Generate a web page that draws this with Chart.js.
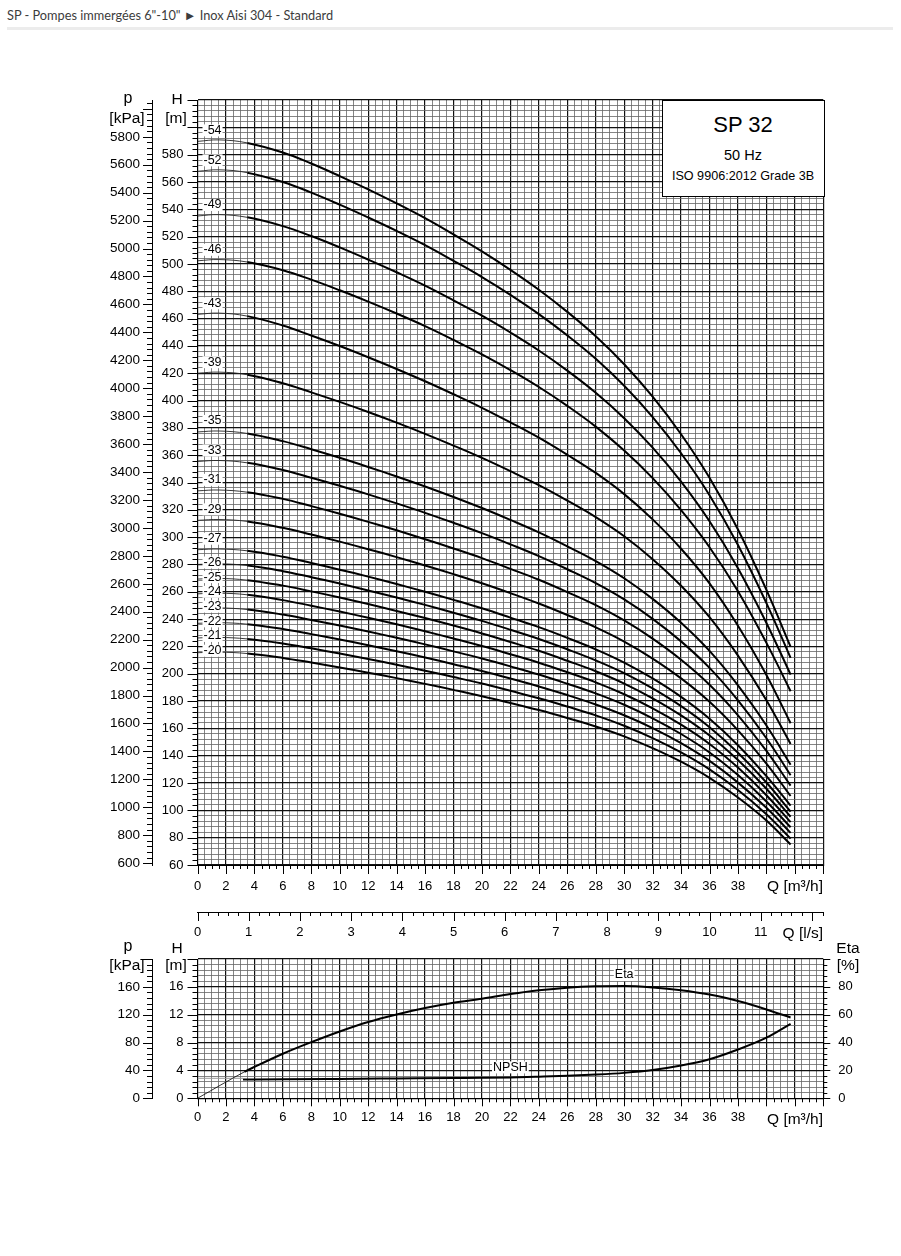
<!DOCTYPE html>
<html>
<head>
<meta charset="utf-8">
<title>SP 32</title>
<script src="https://cdn.jsdelivr.net/npm/chart.js@4.4.1/dist/chart.umd.min.js"></script>
<style>
body{ margin:0; background:#fff; width:901px; height:1256px; position:relative; overflow:hidden; }
.head{ position:absolute; left:7px; top:7px; font-family:Lato,"Open Sans",sans-serif; font-size:12.75px; color:#3c3c3c; white-space:nowrap; }
.rule{ position:absolute; left:7px; width:886px; top:27px; height:3px; background:#ececec; }
canvas{ position:absolute; left:0; }
.txt{ position:absolute; line-height:1; white-space:nowrap; color:#000; font-family:"Liberation Sans",Arial,sans-serif; z-index:3; }
.box{ position:absolute; left:662px; top:100px; width:161px; height:95px; border:1px solid #000; background:#fff; z-index:2; }
</style>
</head>
<body>
<div class="head">SP - Pompes immergées 6"-10" ► Inox Aisi 304 - Standard</div>
<div class="rule"></div>
<canvas id="headChart" width="901" height="822" style="top:78px"></canvas>
<canvas id="lsAxis" width="901" height="45" style="top:900px"></canvas>
<canvas id="etaChart" width="901" height="199" style="top:936px"></canvas>
<div class="box"></div>
<script>
// ======================================
// DATA
// ======================================

const flowPoints = [0, 1.5, 3.5, 6, 8, 10, 12, 14, 16, 18, 20, 22, 24, 26, 28, 30, 32, 34, 36, 38, 40, 41.7];

const stageLabels = ["-54","-52","-49","-46","-43","-39","-35","-33","-31","-29","-27","-26","-25","-24","-23","-22","-21","-20"];

const head54 = [589.7, 590.8, 588.6, 581.6, 573.5, 564.3, 554.6, 544.3, 533.5, 521.6, 509.2, 495.7, 481.1, 464.9, 447.1, 426.6, 402.8, 375.3, 343.4, 305.6, 261.4, 219.8];
const head52 = [567.8, 568.9, 566.8, 560.0, 552.2, 543.4, 534.0, 524.2, 513.8, 502.3, 490.4, 477.4, 463.3, 447.7, 430.6, 410.8, 387.9, 361.4, 330.7, 294.3, 251.7, 211.6];
const head49 = [535.1, 536.1, 534.1, 527.7, 520.4, 512.1, 503.2, 493.9, 484.1, 473.3, 462.1, 449.8, 436.6, 421.9, 405.7, 387.1, 365.5, 340.6, 311.6, 277.3, 237.2, 199.4];
const head46 = [502.3, 503.2, 501.4, 495.4, 488.5, 480.7, 472.4, 463.7, 454.5, 444.4, 433.8, 422.3, 409.9, 396.1, 380.9, 363.4, 343.2, 319.7, 292.6, 260.4, 222.6, 187.2];
const head43 = [463.1, 464.0, 461.8, 454.9, 447.6, 439.9, 431.7, 423.1, 414.1, 404.6, 394.7, 384.0, 372.8, 360.3, 347.0, 331.5, 313.0, 291.5, 266.2, 235.2, 199.1, 163.8];
const head39 = [420.0, 420.8, 418.9, 412.6, 406.0, 399.0, 391.6, 383.8, 375.6, 367.0, 358.0, 348.3, 338.1, 326.8, 314.7, 300.7, 283.9, 264.4, 241.4, 213.3, 180.6, 148.6];
const head35 = [377.0, 377.7, 375.9, 370.3, 364.4, 358.1, 351.4, 344.4, 337.1, 329.4, 321.3, 312.6, 303.5, 293.3, 282.5, 269.9, 254.8, 237.3, 216.7, 191.5, 162.1, 133.4];
const head33 = [355.4, 356.1, 354.4, 349.1, 343.5, 337.6, 331.3, 324.7, 317.8, 310.5, 302.9, 294.7, 286.1, 276.5, 266.3, 254.4, 240.2, 223.7, 204.3, 180.5, 152.8, 125.7];
const head31 = [333.9, 334.5, 332.9, 328.0, 322.7, 317.1, 311.2, 305.0, 298.5, 291.7, 284.6, 276.8, 268.8, 259.8, 250.2, 239.0, 225.7, 210.2, 191.9, 169.6, 143.5, 118.1];
const head29 = [312.3, 312.9, 311.5, 306.8, 301.9, 296.7, 291.2, 285.4, 279.3, 272.9, 266.2, 259.0, 251.4, 243.0, 234.0, 223.6, 211.1, 196.6, 179.5, 158.6, 134.3, 110.5];
const head27 = [290.8, 291.3, 290.0, 285.7, 281.1, 276.2, 271.1, 265.7, 260.0, 254.1, 247.9, 241.1, 234.1, 226.3, 217.9, 208.2, 196.6, 183.1, 167.1, 147.7, 125.0, 103.5];
const head26 = [280.0, 280.5, 279.2, 275.1, 270.7, 266.0, 261.0, 255.8, 250.4, 244.7, 238.7, 232.2, 225.4, 217.9, 209.8, 200.5, 189.3, 176.3, 160.9, 142.2, 120.4, 99.1];
const head25 = [269.3, 269.8, 268.5, 264.5, 260.3, 255.8, 251.0, 246.0, 240.8, 235.3, 229.5, 223.3, 216.8, 209.5, 201.8, 192.8, 182.0, 169.5, 154.8, 136.8, 115.8, 95.3];
const head24 = [258.5, 259.0, 257.8, 253.9, 249.8, 245.5, 241.0, 236.2, 231.1, 225.8, 220.3, 214.3, 208.1, 201.1, 193.7, 185.0, 174.7, 162.7, 148.6, 131.3, 111.1, 91.4];
const head23 = [247.7, 248.2, 247.0, 243.3, 239.4, 235.3, 230.9, 226.3, 221.5, 216.4, 211.1, 205.4, 199.4, 192.7, 185.6, 177.3, 167.4, 155.9, 142.4, 125.8, 106.5, 87.6];
const head22 = [236.9, 237.4, 236.3, 232.8, 229.0, 225.1, 220.9, 216.5, 211.9, 207.0, 202.0, 196.5, 190.7, 184.4, 177.5, 169.6, 160.2, 149.2, 136.2, 120.3, 101.9, 83.5];
const head21 = [226.2, 226.6, 225.5, 222.2, 218.6, 214.8, 210.8, 206.6, 202.2, 197.6, 192.8, 187.5, 182.1, 176.0, 169.5, 161.9, 152.9, 142.4, 130.0, 114.9, 97.2, 79.3];
const head20 = [215.4, 215.8, 214.8, 211.6, 208.2, 204.6, 200.8, 196.8, 192.6, 188.2, 183.6, 178.6, 173.4, 167.6, 161.4, 154.2, 145.6, 135.6, 123.8, 109.4, 92.6, 75.0];

const headCurves = [head54, head52, head49, head46, head43, head39, head35, head33, head31, head29, head27, head26, head25, head24, head23, head22, head21, head20];

const etaFlow = [0, 3.3, 4, 6, 8, 10, 12, 14, 16, 18, 20, 22, 24, 26, 28, 30, 32, 34, 36, 38, 40, 41.7];
const etaValues = [0, 19, 22.5, 32, 40.3, 48, 54.8, 60.2, 64.8, 68.6, 71.5, 74.8, 77.5, 79.4, 80.4, 80.6, 79.6, 77.6, 74.5, 69.8, 63.8, 58];

const npshFlow = [3.2, 6, 10, 14, 18, 20, 22, 24, 26, 28, 30, 32, 34, 36, 38, 40, 41.7];
const npshValues = [2.7, 2.72, 2.78, 2.85, 2.92, 2.95, 3.0, 3.1, 3.22, 3.4, 3.65, 4.05, 4.7, 5.6, 7.0, 8.7, 10.7];
const npshLowFlow = [0, 3.2];
const npshLowValues = [2.87, 2.87];

const flowTicksM3h = [0, 2, 4, 6, 8, 10, 12, 14, 16, 18, 20, 22, 24, 26, 28, 30, 32, 34, 36, 38];
const flowTicksLs = [0, 1, 2, 3, 4, 5, 6, 7, 8, 9, 10, 11];

const KPA_PER_M_TOP = 9.78;
const KPA_PER_M_LOW = 10;
const THIN_UNTIL = 3.5;

// ======================================
// HELPERS
// ======================================

Chart.defaults.font.family = "'Liberation Sans', Arial, sans-serif";
Chart.defaults.font.size = 13;
Chart.defaults.color = "#000";

function isStep(v, step){

    const r = v / step;

    return Math.abs(r - Math.round(r)) < 1e-6;

}

function gridOpts(major){

    return {
        color: c => isStep(c.tick.value, major) ? "#111" : "#666",
        lineWidth: c => isStep(c.tick.value, major) ? 1.2 : 0.8,
        drawTicks: false
    };

}

function points(xs, ys){

    return xs.map((q, i) => ({ x: q, y: ys[i] }));

}

function addText(txt, x, base, size, align){

    const d = document.createElement("div");

    d.className = "txt";
    d.textContent = txt;
    d.style.left = x + "px";
    d.style.top = (base - size * 0.8465) + "px";
    d.style.fontSize = size + "px";

    if(align === "center") d.style.transform = "translateX(-50%)";
    if(align === "right") d.style.transform = "translateX(-100%)";

    document.body.appendChild(d);

}

// tick marks drawn along each axis line, majors longer
const tickMarks = {

    id: "tickMarks",

    afterDraw(chart, args, opts){

        const ctx = chart.ctx;

        ctx.save();
        ctx.strokeStyle = "#000";
        ctx.lineWidth = 1;

        (opts.axes || []).forEach(a => {

            const s = chart.scales[a.id];

            s.ticks.forEach(t => {

                const len = isStep(t.value, a.major) ? a.len : a.minorLen;
                const p = Math.round(s.getPixelForValue(t.value)) + 0.5;

                ctx.beginPath();

                if(s.position === "bottom"){
                    ctx.moveTo(p, s.top);
                    ctx.lineTo(p, s.top + len);
                }
                else if(s.position === "left"){
                    ctx.moveTo(s.right, p);
                    ctx.lineTo(s.right - len, p);
                }
                else{
                    ctx.moveTo(s.left, p);
                    ctx.lineTo(s.left + len, p);
                }

                ctx.stroke();

            });

        });

        ctx.restore();

    }

};

// small white-backed tags next to the curves
const curveTags = {

    id: "curveTags",

    afterDatasetsDraw(chart){

        const ctx = chart.ctx;
        const xs = chart.scales.x;

        ctx.save();
        ctx.font = "12.5px 'Liberation Sans', Arial, sans-serif";
        ctx.textBaseline = "middle";

        chart.data.datasets.forEach(ds => {

            if(!ds.tag) return;

            const pt = ds.data[ds.tagIndex];
            const ys = chart.scales[ds.yAxisID];
            const w = ctx.measureText(ds.tag).width;

            const px = ds.tagIndex === 0 ? xs.getPixelForValue(pt.x) + 6 : xs.getPixelForValue(pt.x) - w / 2;
            const py = ys.getPixelForValue(pt.y) + ds.tagDy;

            ctx.fillStyle = "#fff";
            ctx.fillRect(px - 1, py - 6, w + 2, 12);

            ctx.fillStyle = "#000";
            ctx.fillText(ds.tag, px, py);

        });

        ctx.restore();

    }

};

// ======================================
// HEAD CURVES
// ======================================

function drawHeadChart(){

    const datasets = headCurves.map((vals, i) => ({

        label: stageLabels[i],
        tag: stageLabels[i],
        tagIndex: 0,
        tagDy: i < 11 ? -11 : -2,
        data: points(flowPoints, vals),
        yAxisID: "y",
        borderColor: "#000",
        borderWidth: 2,
        pointRadius: 0,
        fill: false,
        tension: 0.4,
        segment: {
            borderWidth: c => c.p1.parsed.x <= THIN_UNTIL ? 0.9 : 2,
            borderColor: c => c.p1.parsed.x <= THIN_UNTIL ? "#222" : "#000"
        }

    }));

    new Chart(

        document.getElementById("headChart"),

        {

            type: "line",

            data: { datasets },

            plugins: [tickMarks, curveTags],

            options: {

                responsive: false,
                animation: false,
                events: [],

                layout: { padding: { top: 22, right: 77.7, bottom: 0, left: 0 } },

                plugins: {
                    legend: { display: false },
                    tooltip: { enabled: false },
                    tickMarks: {
                        axes: [
                            { id: "x", major: 2, len: 9, minorLen: 4 },
                            { id: "y", major: 20, len: 10, minorLen: 5 },
                            { id: "yP", major: 200, len: 9, minorLen: 5 }
                        ]
                    }
                },

                scales: {

                    x: {
                        type: "linear",
                        min: 0,
                        max: 44,
                        grid: gridOpts(2),
                        border: { display: true, color: "#000", width: 1 },
                        ticks: {
                            stepSize: 0.5,
                            autoSkip: false,
                            maxRotation: 0,
                            padding: 14,
                            callback: v => flowTicksM3h.includes(v) ? String(v) : ""
                        },
                        afterFit: s => { s.height = 35; }
                    },

                    y: {
                        type: "linear",
                        position: "left",
                        weight: 0,
                        min: 60,
                        max: 620,
                        grid: gridOpts(20),
                        border: { display: true, color: "#000", width: 1 },
                        ticks: {
                            stepSize: 4,
                            autoSkip: false,
                            padding: 14,
                            callback: v => (isStep(v, 20) && v <= 580) ? String(v) : ""
                        },
                        afterFit: s => { s.width = 45.5; }
                    },

                    yP: {
                        type: "linear",
                        position: "left",
                        weight: 1,
                        min: 60 * KPA_PER_M_TOP,
                        max: 620 * KPA_PER_M_TOP,
                        grid: { drawOnChartArea: false, drawTicks: false },
                        border: { display: true, color: "#000", width: 1 },
                        ticks: {
                            stepSize: 40,
                            includeBounds: false,
                            autoSkip: false,
                            padding: 12,
                            font: { size: 13.5 },
                            callback: v => (isStep(v, 200) && v <= 5800) ? String(v) : ""
                        },
                        afterFit: s => { s.width = 152; }
                    }

                }

            }

        }

    );

}

// ======================================
// FLOW IN L/S
// ======================================

function drawLsAxis(){

    new Chart(

        document.getElementById("lsAxis"),

        {

            type: "line",

            data: { datasets: [] },

            plugins: [tickMarks],

            options: {

                responsive: false,
                animation: false,
                events: [],

                layout: { padding: { top: 11, right: 77.7, bottom: 0, left: 197.5 } },

                plugins: {
                    legend: { display: false },
                    tooltip: { enabled: false },
                    tickMarks: { axes: [ { id: "x", major: 1, len: 9, minorLen: 4 } ] }
                },

                scales: {

                    x: {
                        type: "linear",
                        min: 0,
                        max: 44 / 3.6,
                        grid: { drawOnChartArea: false, drawTicks: false },
                        border: { display: true, color: "#000", width: 1 },
                        ticks: {
                            stepSize: 0.2,
                            autoSkip: false,
                            maxRotation: 0,
                            padding: 13,
                            callback: v => flowTicksLs.includes(v) ? String(v) : ""
                        },
                        afterFit: s => { s.height = 33; }
                    },

                    y: { display: false, min: 0, max: 1 }

                }

            }

        }

    );

}

// ======================================
// ETA / NPSH
// ======================================

function drawEtaChart(){

    new Chart(

        document.getElementById("etaChart"),

        {

            type: "line",

            data: {

                datasets: [

                    {
                        label: "Eta",
                        tag: "Eta",
                        tagIndex: 15,
                        tagDy: -11,
                        data: points(etaFlow, etaValues),
                        yAxisID: "yEta",
                        borderColor: "#000",
                        borderWidth: 2,
                        pointRadius: 0,
                        cubicInterpolationMode: "monotone",
                        segment: {
                            borderWidth: c => c.p1.parsed.x <= 3.3 ? 0.8 : 2
                        }
                    },

                    {
                        label: "NPSH",
                        tag: "NPSH",
                        tagIndex: 6,
                        tagDy: -10,
                        data: points(npshFlow, npshValues),
                        yAxisID: "y",
                        borderColor: "#000",
                        borderWidth: 2,
                        pointRadius: 0,
                        cubicInterpolationMode: "monotone"
                    },

                    {
                        label: "NPSH low",
                        data: points(npshLowFlow, npshLowValues),
                        yAxisID: "y",
                        borderColor: "#9a9a9a",
                        borderWidth: 1,
                        pointRadius: 0
                    }

                ]

            },

            plugins: [tickMarks, curveTags],

            options: {

                responsive: false,
                animation: false,
                events: [],

                layout: { padding: { top: 23, right: 0, bottom: 0, left: 0 } },

                plugins: {
                    legend: { display: false },
                    tooltip: { enabled: false },
                    tickMarks: {
                        axes: [
                            { id: "x", major: 2, len: 8, minorLen: 4 },
                            { id: "y", major: 4, len: 10, minorLen: 5 },
                            { id: "yP", major: 40, len: 9, minorLen: 5 },
                            { id: "yEta", major: 20, len: 7, minorLen: 4 }
                        ]
                    }
                },

                scales: {

                    x: {
                        type: "linear",
                        min: 0,
                        max: 44,
                        grid: gridOpts(2),
                        border: { display: true, color: "#000", width: 1 },
                        ticks: {
                            stepSize: 0.5,
                            autoSkip: false,
                            maxRotation: 0,
                            padding: 11,
                            callback: v => flowTicksM3h.includes(v) ? String(v) : ""
                        },
                        afterFit: s => { s.height = 36.7; }
                    },

                    y: {
                        type: "linear",
                        position: "left",
                        weight: 0,
                        min: 0,
                        max: 20,
                        grid: gridOpts(4),
                        border: { display: true, color: "#000", width: 1 },
                        ticks: {
                            stepSize: 0.8,
                            autoSkip: false,
                            padding: 14,
                            callback: v => (isStep(v, 4) && v <= 16) ? String(Math.round(v)) : ""
                        },
                        afterFit: s => { s.width = 45.5; }
                    },

                    yP: {
                        type: "linear",
                        position: "left",
                        weight: 1,
                        min: 0,
                        max: 20 * KPA_PER_M_LOW,
                        grid: { drawOnChartArea: false, drawTicks: false },
                        border: { display: true, color: "#000", width: 1 },
                        ticks: {
                            stepSize: 8,
                            autoSkip: false,
                            padding: 12,
                            font: { size: 13.5 },
                            callback: v => (isStep(v, 40) && v <= 160) ? String(v) : ""
                        },
                        afterFit: s => { s.width = 152; }
                    },

                    yEta: {
                        type: "linear",
                        position: "right",
                        min: 0,
                        max: 100,
                        grid: { drawOnChartArea: false, drawTicks: false },
                        border: { display: true, color: "#000", width: 1 },
                        ticks: {
                            stepSize: 4,
                            autoSkip: false,
                            padding: 15,
                            callback: v => (isStep(v, 20) && v <= 80) ? String(v) : ""
                        },
                        afterFit: s => { s.width = 77.7; }
                    }

                }

            }

        }

    );

}

// ======================================
// TEXTS
// ======================================

function placeTexts(){

    addText("p", 128, 103.5, 16, "center");
    addText("[kPa]", 127, 123.5, 15.5, "center");
    addText("H", 177, 104, 15.5, "center");
    addText("[m]", 176, 123.5, 15.5, "center");
    addText("Q [m³/h]", 823, 891.5, 15.5, "right");
    addText("Q [l/s]", 823, 938.5, 15.5, "right");

    addText("p", 128, 952, 16, "center");
    addText("[kPa]", 127, 970.5, 15.5, "center");
    addText("H", 177, 953, 15.5, "center");
    addText("[m]", 176, 970.5, 15.5, "center");
    addText("Eta", 848, 953, 15.5, "center");
    addText("[%]", 848, 970.5, 15.5, "center");
    addText("Q [m³/h]", 823, 1124.5, 15.5, "right");

    addText("SP 32", 743, 132.2, 22, "center");
    addText("50 Hz", 743, 160.5, 14.5, "center");
    addText("ISO 9906:2012 Grade 3B", 743, 180.5, 12.6, "center");

}

drawHeadChart();
drawLsAxis();
drawEtaChart();
placeTexts();
</script>
</body>
</html>
